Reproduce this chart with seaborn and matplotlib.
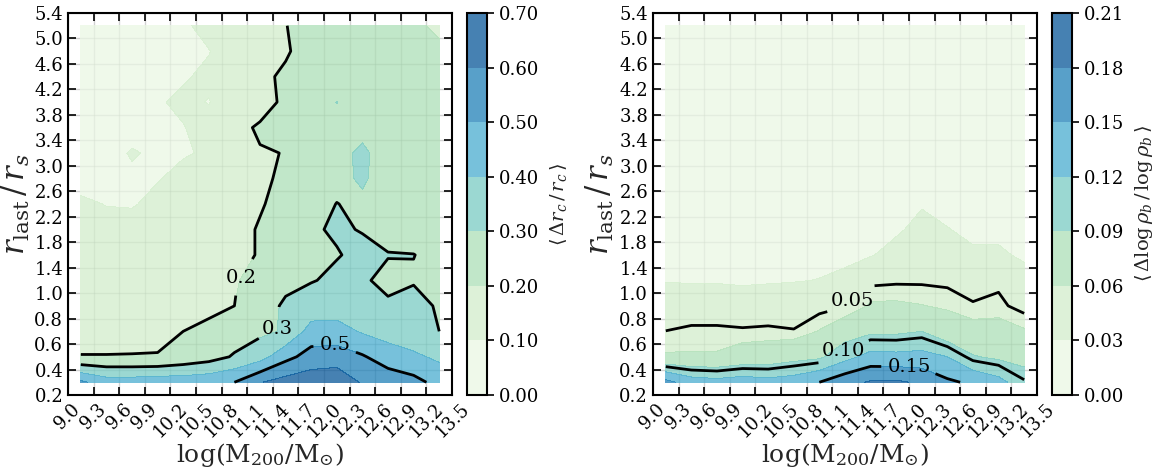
import numpy as np
import matplotlib
matplotlib.use('Agg')
import matplotlib.pyplot as plt
from matplotlib.path import Path
import seaborn as sns

sns.set_theme(style='ticks', rc={'axes.edgecolor': 'black', 'xtick.color': 'black', 'ytick.color': 'black'})
plt.rcParams['font.family'] = ['DejaVu Serif']
plt.rcParams['mathtext.fontset'] = 'dejavuserif'

# bin centres
log_mass = [9.15, 9.45, 9.75, 10.05, 10.35, 10.65, 10.95, 11.25, 11.55, 11.85, 12.15, 12.45, 12.75, 13.05, 13.35]
r_ratio = [0.3, 0.5, 0.7, 0.9, 1.2, 1.6, 2.0, 2.4, 2.8, 3.2, 3.6, 4.0, 4.4, 4.8, 5.2]
# bin edges used as tick labels
r_edges = [0.2, 0.4, 0.6, 0.8, 1.0, 1.4, 1.8, 2.2, 2.6, 3.0, 3.4, 3.8, 4.2, 4.6, 5.0, 5.4]
mass_ticks = [9.0, 9.3, 9.6, 9.9, 10.2, 10.5, 10.8, 11.1, 11.4, 11.7, 12.0, 12.3, 12.6, 12.9, 13.2, 13.5]

# <dr_c/r_c>, rows from r=0.3 (bottom) to r=5.2 (top)
drc = [
    [0.52, 0.45, 0.45, 0.46, 0.46, 0.47, 0.50, 0.595, 0.64, 0.66, 0.67, 0.59, 0.56, 0.53, 0.47],
    [0.202, 0.202, 0.202, 0.202, 0.23, 0.26, 0.31, 0.36, 0.47, 0.54, 0.55, 0.51, 0.45, 0.42, 0.38],
    [0.18, 0.18, 0.185, 0.19, 0.20, 0.22, 0.25, 0.28, 0.31, 0.44, 0.44, 0.39, 0.36, 0.33, 0.30],
    [0.16, 0.16, 0.165, 0.17, 0.175, 0.18, 0.20, 0.27, 0.31, 0.34, 0.35, 0.34, 0.31, 0.33, 0.29],
    [0.15, 0.15, 0.15, 0.155, 0.16, 0.175, 0.195, 0.22, 0.27, 0.294, 0.32, 0.315, 0.27, 0.29, 0.25],
    [0.14, 0.14, 0.14, 0.14, 0.15, 0.17, 0.196, 0.201, 0.25, 0.28, 0.295, 0.32, 0.305, 0.302, 0.27],
    [0.13, 0.12, 0.115, 0.12, 0.13, 0.15, 0.18, 0.205, 0.24, 0.29, 0.31, 0.296, 0.26, 0.25, 0.24],
    [0.11, 0.098, 0.097, 0.11, 0.12, 0.14, 0.17, 0.195, 0.22, 0.26, 0.302, 0.28, 0.25, 0.24, 0.23],
    [0.08, 0.085, 0.09, 0.098, 0.11, 0.13, 0.16, 0.19, 0.21, 0.25, 0.27, 0.315, 0.25, 0.24, 0.23],
    [0.07, 0.08, 0.105, 0.09, 0.097, 0.104, 0.15, 0.197, 0.201, 0.25, 0.27, 0.32, 0.25, 0.24, 0.23],
    [0.07, 0.07, 0.08, 0.09, 0.098, 0.12, 0.186, 0.206, 0.24, 0.25, 0.26, 0.27, 0.25, 0.24, 0.23],
    [0.07, 0.07, 0.08, 0.095, 0.11, 0.098, 0.13, 0.18, 0.21, 0.25, 0.302, 0.26, 0.25, 0.24, 0.23],
    [0.06, 0.07, 0.07, 0.08, 0.095, 0.11, 0.14, 0.18, 0.215, 0.24, 0.25, 0.25, 0.25, 0.24, 0.23],
    [0.06, 0.06, 0.07, 0.08, 0.08, 0.098, 0.13, 0.16, 0.19, 0.24, 0.25, 0.25, 0.25, 0.24, 0.23],
    [0.06, 0.06, 0.07, 0.08, 0.09, 0.12, 0.15, 0.18, 0.198, 0.23, 0.24, 0.25, 0.24, 0.23, 0.17],
]

# <dlog rho_b / log rho_b>
dlrho = [
    [0.16, 0.135, 0.13, 0.135, 0.13, 0.135, 0.15, 0.17, 0.183, 0.185, 0.175, 0.155, 0.145, 0.13, 0.102],
    [0.062, 0.062, 0.062, 0.07, 0.072, 0.08, 0.085, 0.11, 0.13, 0.128, 0.13, 0.12, 0.092, 0.085, 0.082],
    [0.0502, 0.053, 0.053, 0.052, 0.053, 0.051, 0.061, 0.075, 0.085, 0.085, 0.09, 0.07, 0.068, 0.068, 0.062],
    [0.04, 0.04, 0.04, 0.038, 0.039, 0.04, 0.045, 0.049, 0.062, 0.062, 0.0605, 0.058, 0.051, 0.053, 0.045],
    [0.029, 0.028, 0.028, 0.027, 0.028, 0.029, 0.0305, 0.035, 0.045, 0.047, 0.047, 0.045, 0.042, 0.045, 0.035],
    [0.025, 0.024, 0.024, 0.024, 0.025, 0.025, 0.025, 0.025, 0.029, 0.035, 0.038, 0.036, 0.032, 0.032, 0.028],
    [0.022, 0.022, 0.021, 0.022, 0.022, 0.022, 0.022, 0.022, 0.022, 0.028, 0.034, 0.0305, 0.027, 0.027, 0.024],
    [0.02, 0.02, 0.02, 0.02, 0.02, 0.02, 0.02, 0.021, 0.022, 0.024, 0.029, 0.026, 0.024, 0.024, 0.022],
    [0.019, 0.019, 0.019, 0.019, 0.019, 0.019, 0.02, 0.02, 0.021, 0.022, 0.024, 0.023, 0.022, 0.021, 0.02],
    [0.018, 0.018, 0.018, 0.018, 0.018, 0.019, 0.019, 0.019, 0.02, 0.021, 0.022, 0.021, 0.02, 0.02, 0.019],
    [0.018, 0.018, 0.018, 0.018, 0.018, 0.018, 0.018, 0.019, 0.019, 0.02, 0.021, 0.02, 0.02, 0.019, 0.019],
    [0.017, 0.017, 0.017, 0.017, 0.018, 0.018, 0.018, 0.018, 0.019, 0.019, 0.02, 0.019, 0.019, 0.019, 0.018],
    [0.017, 0.017, 0.017, 0.017, 0.017, 0.018, 0.018, 0.018, 0.018, 0.019, 0.019, 0.019, 0.018, 0.018, 0.018],
    [0.016, 0.016, 0.017, 0.017, 0.017, 0.017, 0.017, 0.018, 0.018, 0.018, 0.019, 0.018, 0.018, 0.018, 0.017],
    [0.016, 0.016, 0.016, 0.016, 0.017, 0.017, 0.017, 0.017, 0.018, 0.018, 0.018, 0.018, 0.017, 0.017, 0.017],
]

cmap = sns.color_palette('GnBu', as_cmap=True)

edge_idx = np.arange(len(r_edges))
def fwd(y):
    return np.interp(y, r_edges, edge_idx)
def inv(v):
    return np.interp(v, edge_idx, r_edges)


def drop_small(cs, min_width=0.8):
    # the reference only shows the long contour lines, not the tiny islands
    new_paths = []
    for p in cs.get_paths():
        verts, codes = p.vertices, p.codes
        if codes is None or len(verts) == 0:
            new_paths.append(p)
            continue
        starts = list(np.flatnonzero(codes == Path.MOVETO)) + [len(verts)]
        kv, kc = [], []
        for s, e in zip(starts[:-1], starts[1:]):
            if np.ptp(verts[s:e, 0]) >= min_width:
                kv.append(verts[s:e])
                kc.append(codes[s:e])
        if kv:
            new_paths.append(Path(np.concatenate(kv), np.concatenate(kc)))
        else:
            new_paths.append(Path(np.zeros((0, 2))))
    cs.set_paths(new_paths)


def panel(ax, cax, z, levels, lines, fmt, label_pos, cbar_label, cbar_fmt):
    X, Y = np.meshgrid(log_mass, r_ratio)
    Z = np.array(z)
    ax.set_yscale('function', functions=(fwd, inv))
    cf = ax.contourf(X, Y, Z, levels=levels, cmap=cmap, alpha=0.75)
    cs = ax.contour(X, Y, Z, levels=lines, colors='black', linewidths=2)
    drop_small(cs)
    txts = ax.clabel(cs, fmt=fmt, fontsize=14, inline=True, inline_spacing=8, manual=label_pos)
    for t in txts:
        t.set_rotation(0)
    ax.set_xlim(9.0, 13.5)
    ax.set_ylim(0.2, 5.4)
    ax.set_xticks(mass_ticks)
    ax.set_xticklabels([f'{t:.1f}' for t in mass_ticks], rotation=45, ha='center')
    ax.set_yticks(r_edges)
    ax.set_yticklabels([f'{t:.1f}' for t in r_edges])
    ax.minorticks_off()
    ax.tick_params(direction='in', top=True, right=True, length=6, width=1.2, labelsize=13)
    ax.grid(True, color='gray', alpha=0.35, lw=1.0)
    for s in ax.spines.values():
        s.set_linewidth(1.5)
    ax.set_xlabel(r'$\log(\mathrm{M}_{200}/\mathrm{M}_{\odot})$', fontsize=18, labelpad=0)
    ax.set_ylabel(r'$r_{\rm last}\,/\,r_s$', fontsize=22, labelpad=2)
    cb = plt.colorbar(cf, cax=cax, format=cbar_fmt)
    cb.set_label(cbar_label, fontsize=14, labelpad=6)
    cb.ax.tick_params(labelsize=13, direction='out', length=5, width=1.2)
    cb.outline.set_linewidth(1.5)


fig = plt.figure(figsize=(11.59, 4.70), dpi=100)
ax1 = fig.add_axes([0.0587, 0.1596, 0.3313, 0.8128])
cax1 = fig.add_axes([0.4029, 0.1596, 0.0173, 0.8128])
ax2 = fig.add_axes([0.5634, 0.1596, 0.3313, 0.8128])
cax2 = fig.add_axes([0.9077, 0.1596, 0.0173, 0.8128])

panel(ax1, cax1, drc, [0.0, 0.1, 0.2, 0.3, 0.4, 0.5, 0.6, 0.7], [0.2, 0.3, 0.5], '%.1f',
      [(11.04, 1.23), (11.6, 0.71), (12.13, 0.62)],
      r'$\langle\,\Delta r_c\,/\,r_c\,\rangle$', '%.2f')
panel(ax2, cax2, dlrho, [0.0, 0.03, 0.06, 0.09, 0.12, 0.15, 0.18, 0.21], [0.05, 0.10, 0.15], '%.2f',
      [(11.37, 0.91), (11.3, 0.48), (12.0, 0.42)],
      r'$\langle\,\Delta\log\rho_b\,/\,\log\rho_b\,\rangle$', '%.2f')

fig.savefig('out.png', dpi=100)
